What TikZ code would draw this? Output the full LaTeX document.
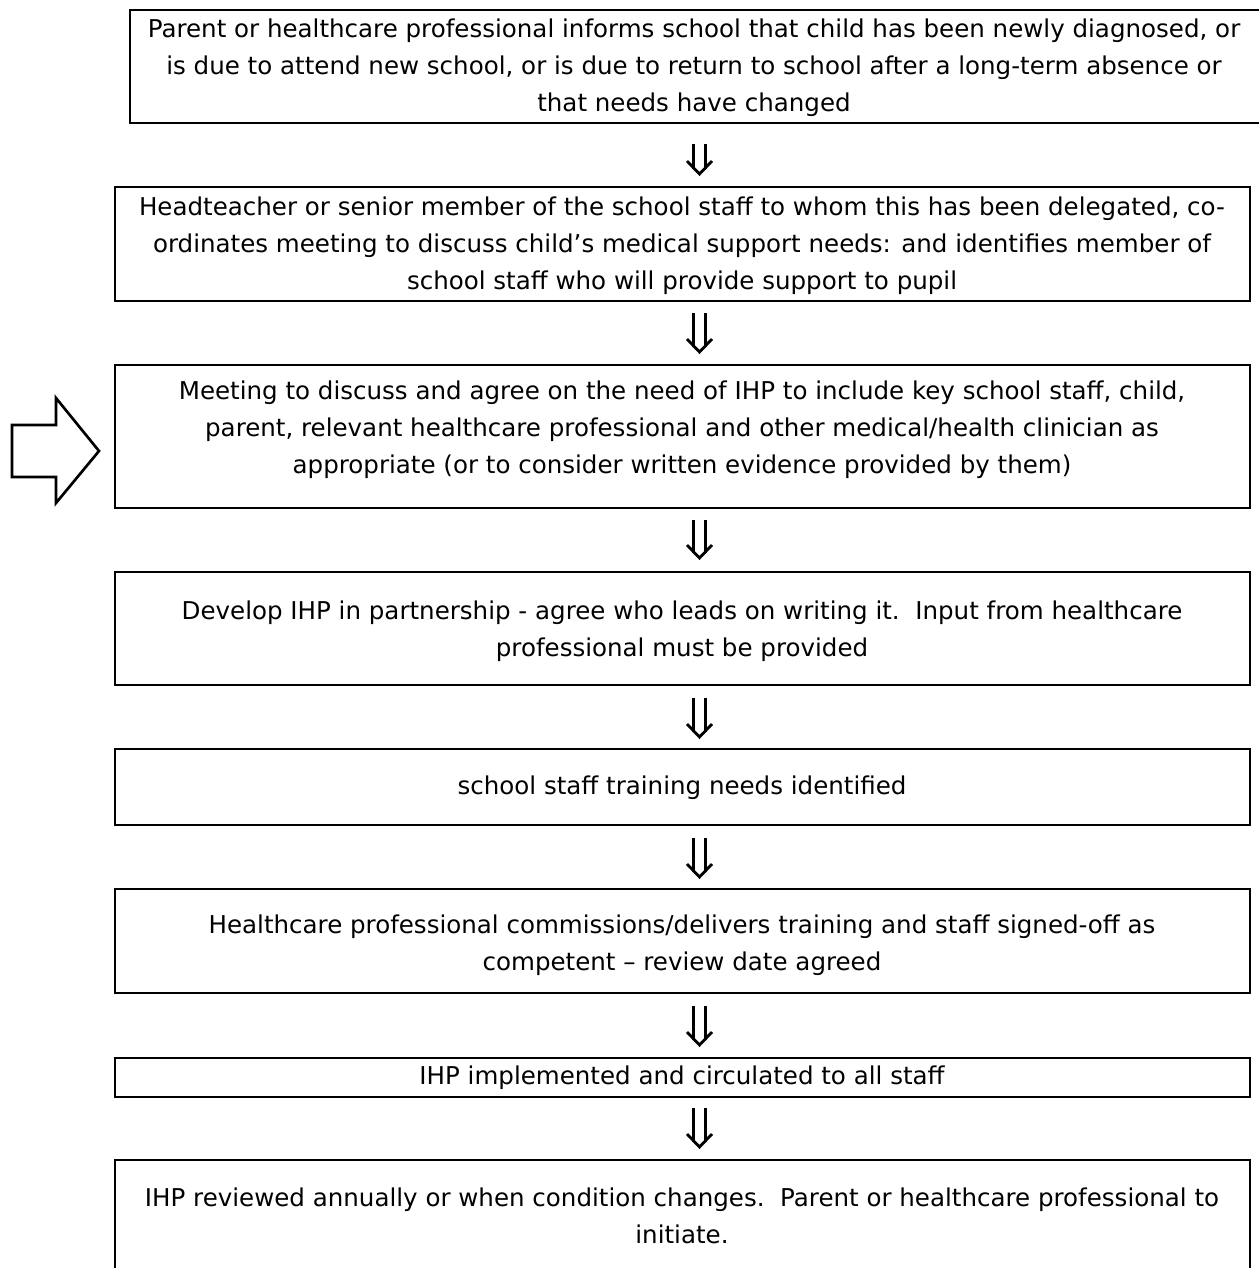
\documentclass[tikz,border=0pt]{standalone}
\usepackage{fontspec}
\setmainfont{DejaVu Sans}
\usetikzlibrary{fit}
\tikzset{
  box/.style={draw, line width=2pt, inner sep=0pt},
  txt/.style={align=center, inner sep=0pt, font=\fontsize{18.4pt}{27.75pt}\selectfont},
  arr/.style={line width=2.1pt},
}
\newcommand\dblarrow[3]{%
  \coordinate (#1) at (700,{(#2+#3)/2});
  \draw[arr] (693.5,#2) -- (693.5,{#3-5}) (705.5,#2) -- (705.5,{#3-5});
  \draw[arr, line join=miter] (687,{#3-13}) -- (699.5,#3) -- (712,{#3-13});}
\begin{document}
\begin{tikzpicture}[x=0.75pt, y=-0.75pt]
\useasboundingbox[fill=white] (0,0) rectangle (1258,1268);
% boxes
\node[box, fit={(130,10) (1262,123)}] (b1) {};
\node[box, fit={(115,187) (1250,301)}] (b2) {};
\node[box, fit={(115,365) (1250,508)}] (b3) {};
\node[box, fit={(115,572) (1250,685)}] (b4) {};
\node[box, fit={(115,749) (1250,825)}] (b5) {};
\node[box, fit={(115,889) (1250,993)}] (b6) {};
\node[box, fit={(115,1058) (1250,1097)}] (b7) {};
\node[box, fit={(115,1160) (1250,1275)}] (b8) {};
% texts
\node[txt] (t1) at (694,68) {Parent or healthcare professional informs school that child has been newly diagnosed, or\\is due to attend new school, or is due to return to school after a long-term absence or\\that needs have changed};
\node[txt] (t2) at (682,246) {Headteacher or senior member of the school staff to whom this has been delegated, co-\\ordinates meeting to discuss child’s medical support needs: and identifies member of\\school staff who will provide support to pupil};
\node[txt] (t3) at (682,430) {Meeting to discuss and agree on the need of IHP to include key school staff, child,\\parent, relevant healthcare professional and other medical/health clinician as\\appropriate (or to consider written evidence provided by them)};
\node[txt] (t4) at (682,631) {Develop IHP in partnership - agree who leads on writing it.\ \ Input from healthcare\\professional must be provided};
\node[txt] (t5) at (682,788) {school staff training needs identified};
\node[txt] (t6) at (682,945) {Healthcare professional commissions/delivers training and staff signed-off as\\competent – review date agreed};
\node[txt] (t7) at (682,1078) {IHP implemented and circulated to all staff};
\node[txt] (t8) at (682,1216) {IHP reviewed annually or when condition changes.\ \ Parent or healthcare professional to\\initiate.};
% down arrows between boxes
\dblarrow{a1}{144}{174}
\dblarrow{a2}{313}{352}
\dblarrow{a3}{520}{558}
\dblarrow{a4}{698}{737}
\dblarrow{a5}{838}{877}
\dblarrow{a6}{1006}{1045}
\dblarrow{a7}{1108}{1147}
% block arrow on the left
\draw[box, line join=miter] (12,425) -- (56,425) -- (56,398) -- (99,451) -- (56,503) -- (56,477) -- (12,477) -- cycle;
\end{tikzpicture}
\end{document}
